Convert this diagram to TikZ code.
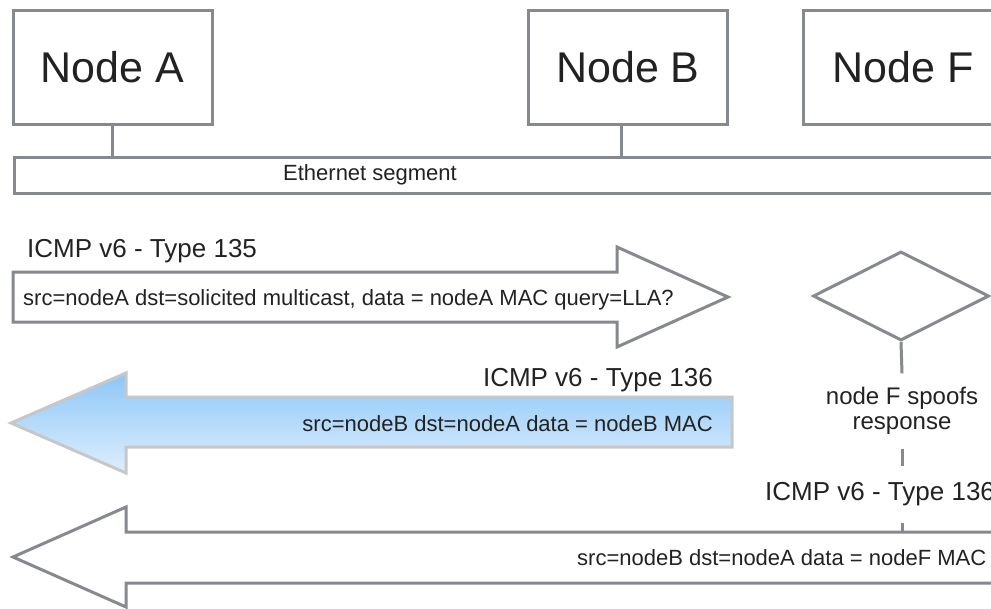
\documentclass[tikz,border=0pt]{standalone}
\usepackage{fontspec}
\setmainfont{Liberation Sans}
\usetikzlibrary{shapes.geometric}

\definecolor{linegray}{HTML}{86898D}
\definecolor{txtgray}{HTML}{222222}
\definecolor{bluetop}{HTML}{8DC6F8}
\definecolor{bluebot}{HTML}{DDEFFC}
\definecolor{bluebrd}{HTML}{C6C7C9}

\tikzset{
  host/.style={draw=linegray, line width=3pt, fill=white, minimum width=199pt,
    minimum height=114pt, inner sep=0pt, font=\fontsize{43}{50}\selectfont},
  wire/.style={draw=linegray, line width=3pt},
  msglbl/.style={font=\fontsize{26}{30}\selectfont, inner sep=2pt},
  msgtxt/.style={font=\fontsize{22}{25}\selectfont, inner sep=2pt},
}

\begin{document}
\begin{tikzpicture}[x=1pt, y=-1pt, text=txtgray]
    \useasboundingbox (0,0) rectangle (991,608);
    \clip (0,0) rectangle (991,608);

    % Nodes
    \node[host] (nodeA) at (112.5,67.5) {Node A};
    \node[host] (nodeB) at (628,67.5) {Node B};
    \node[host] (nodeF) at (903,67.5) {Node F};
    \node[wire, minimum width=1000pt, minimum height=36pt, inner sep=0pt, anchor=west] (eth) at (13,175) {};
    \node[msgtxt] (ethlbl) at (370,175) {Ethernet segment};

    % Edges
    \draw[wire] (nodeA.south) -- (nodeA.south |- eth.north);
    \draw[wire] ([xshift=-7pt]nodeB.south) -- ([xshift=-7pt]nodeB.south |- eth.north);

    % Type 135 request
    \draw[wire] (13,272) -- (617,272) -- (617,247) -- (728,297) -- (617,347) -- (617,322) -- (13,322) -- cycle;
    \node[msglbl, anchor=base west] (nslbl) at (25,257) {ICMP v6 - Type 135};
    \node[msgtxt, anchor=base west] (nstxt) at (21,305) {src=nodeA dst=solicited multicast, data = nodeA MAC query=LLA?};

    % Type 136 reply from B
    \draw[draw=bluebrd, line width=3pt, top color=bluetop, bottom color=bluebot]
        (732,397) -- (126,397) -- (126,373) -- (11,423) -- (126,473) -- (126,447) -- (732,447) -- cycle;
    \node[msglbl, anchor=base east] (nalbl) at (715,386) {ICMP v6 - Type 136};
    \node[msgtxt, anchor=base east] (natxt) at (715,431) {src=nodeB dst=nodeA data = nodeB MAC};

    % Node F
    \node[diamond, wire, minimum width=176pt, minimum height=89pt, inner sep=0pt] (check) at (901,296) {};
    \node[font=\fontsize{24}{25}\selectfont, align=center, minimum height=75pt, inner sep=0pt] (spoof) at (902,411) {node F spoofs\\response};
    \coordinate (hit) at (902,532);
    \draw[wire] (check.south) -- (spoof.north);
    \draw[wire, dash pattern=on 17pt off 20pt] (spoof.south) -- (hit);

    % Type 136 spoofed reply
    \draw[wire] (1000,532) -- (126,532) -- (126,507) -- (13,557) -- (126,607) -- (126,583) -- (1000,583);
    \node[msglbl, fill=white, anchor=base west] (fakelbl) at (763,500) {ICMP v6 - Type 136};
    \node[msgtxt, anchor=base west] (faketxt) at (575,565) {src=nodeB dst=nodeA data = nodeF MAC};
\end{tikzpicture}
\end{document}
